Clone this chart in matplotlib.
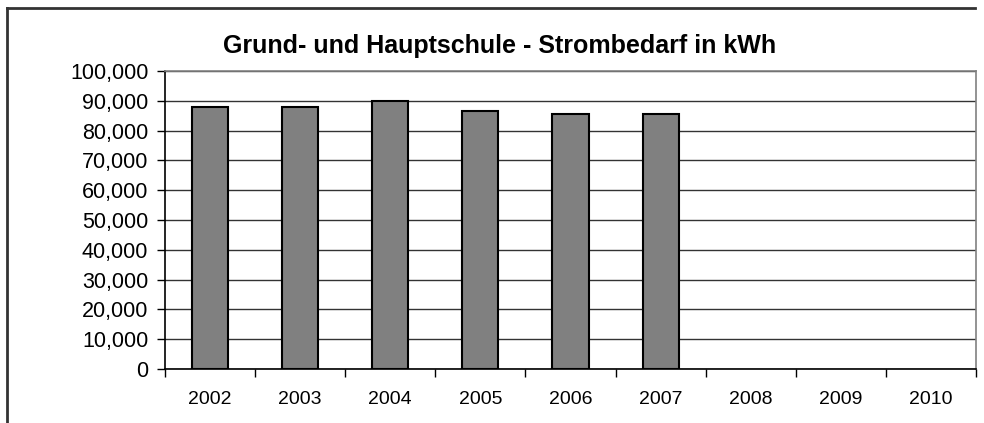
import matplotlib
matplotlib.use("Agg")
import matplotlib.pyplot as plt
from matplotlib.lines import Line2D
from matplotlib.ticker import FuncFormatter, MultipleLocator

years = ["2002", "2003", "2004", "2005", "2006", "2007", "2008", "2009", "2010"]
values = [87800, 87800, 90100, 86700, 85600, 85600, None, None, None]
title = "Grund- und Hauptschule - Strombedarf in kWh"

plt.rcParams['font.family'] = ['Liberation Sans', 'DejaVu Sans']

W, H = 984, 423
fig = plt.figure(figsize=(W / 100, H / 100), dpi=100)
L, R, T, B = 165, 976, 71, 369
ax = fig.add_axes([L / W, 1 - B / H, (R - L) / W, (B - T) / H])

xs = [i for i, v in enumerate(years) if values[i] is not None]
vs = [values[i] for i in xs]
ax.bar(xs, vs, width=0.4, color="#808080", edgecolor="black", linewidth=1.5, zorder=3)

ax.set_xlim(-0.5, len(years) - 0.5)
ax.set_ylim(0, 100000)
ax.yaxis.set_major_locator(MultipleLocator(10000))
ax.yaxis.set_major_formatter(FuncFormatter(lambda v, p: f"{int(v):,}"))
ax.grid(axis="y", color="#333333", linewidth=1.0, zorder=1)

ax.set_xticks([i - 0.5 for i in range(len(years) + 1)], minor=False)
ax.set_xticklabels([])
ax.set_xticks(range(len(years)), minor=True)
ax.set_xticklabels(years, minor=True)
ax.tick_params(axis="x", which="major", direction="out", length=6, width=1, color="black")
ax.tick_params(axis="x", which="minor", length=0, pad=16, labelsize=14)
ax.tick_params(axis="y", direction="out", length=6, width=1, color="black", labelsize=15.5, pad=6)

for s in ["top", "right"]:
    ax.spines[s].set_color("#808080")
    ax.spines[s].set_linewidth(1.2)
for s in ["left", "bottom"]:
    ax.spines[s].set_color("black")
    ax.spines[s].set_linewidth(1.2)

fig.text(500 / W, 1 - 53 / H, title, ha="center", va="baseline", fontsize=18, fontweight="bold")

# outer chart frame (left and top edges visible)
fig.add_artist(Line2D([7 / W, 7 / W], [0, 1 - 8 / H], color="#333333", linewidth=2, transform=fig.transFigure))
fig.add_artist(Line2D([7 / W, 975 / W], [1 - 8 / H, 1 - 8 / H], color="#333333", linewidth=2, transform=fig.transFigure))

fig.savefig("out.png", dpi=100)
